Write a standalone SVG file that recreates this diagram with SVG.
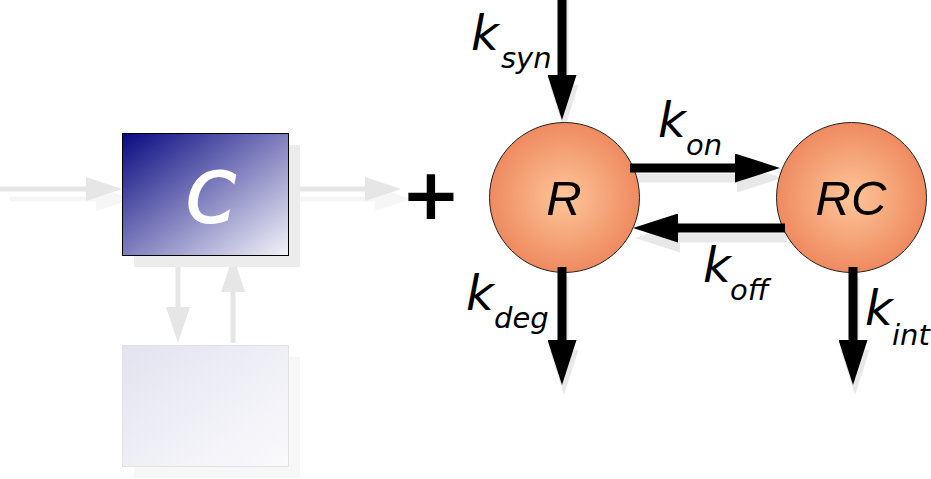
<svg xmlns="http://www.w3.org/2000/svg" width="931" height="479" viewBox="0 0 931 479">
<style>
.k{font-family:"DejaVu Sans",Verdana,sans-serif;font-style:italic;font-size:48px;fill:#000}
.sub{font-family:"DejaVu Sans",Verdana,sans-serif;font-style:italic;font-size:29px;fill:#000}
.lbl{font-family:"Liberation Sans",Arial,sans-serif;font-style:italic;font-size:49px;fill:#000}
.blk{stroke:#000;stroke-width:9;fill:none;marker-end:url(#hb)}
.shd{stroke:#e8e8e8;stroke-width:9;fill:none;marker-end:url(#hs)}
.gry{stroke:#e6e6e6;stroke-width:5;fill:none;marker-end:url(#hg)}
.gsh{stroke:#f6f6f6;stroke-width:5;fill:none;marker-end:url(#hgs)}
</style>
<defs>
<marker id="hb" markerUnits="userSpaceOnUse" viewBox="0 0 45 29" refX="0" refY="14.5" markerWidth="45" markerHeight="29" orient="auto"><path d="M0,0 L45,14.5 L0,29 z" fill="#000"/></marker>
<marker id="hs" markerUnits="userSpaceOnUse" viewBox="0 0 45 29" refX="0" refY="14.5" markerWidth="45" markerHeight="29" orient="auto"><path d="M0,0 L45,14.5 L0,29 z" fill="#e8e8e8"/></marker>
<marker id="hg" markerUnits="userSpaceOnUse" viewBox="0 0 36 24" refX="0" refY="12" markerWidth="36" markerHeight="24" orient="auto"><path d="M0,0 L36,12 L0,24 z" fill="#e6e6e6"/></marker>
<marker id="hgs" markerUnits="userSpaceOnUse" viewBox="0 0 36 24" refX="0" refY="12" markerWidth="36" markerHeight="24" orient="auto"><path d="M0,0 L36,12 L0,24 z" fill="#f6f6f6"/></marker>
<linearGradient id="gc" x1="0" y1="0" x2="1" y2="1"><stop offset="0" stop-color="#0a0a82"/><stop offset="1" stop-color="#f4f4fa"/></linearGradient>
<linearGradient id="gl" x1="0" y1="0" x2="1" y2="1"><stop offset="0" stop-color="#e3e3f0"/><stop offset="1" stop-color="#fafafc"/></linearGradient>
<radialGradient id="gr" cx="0.5" cy="0.5" r="0.5"><stop offset="0" stop-color="#fdc699"/><stop offset="1" stop-color="#ef8a60"/></radialGradient>
</defs>

<g id="connectors">
  <path class="gsh" d="M10,199 L96,199"/>
  <path class="gsh" d="M298,199 L375,199"/>
  <path class="gry" d="M0,189 L86,189"/>
  <path class="gry" d="M288,189 L365,189"/>
  <path class="gry" d="M178,255 L178,307"/>
  <path class="gry" d="M233,343 L233,292"/>
  <path class="shd" d="M564,0 L564,85"/>
  <path class="shd" d="M632,178 L737,178"/>
  <path class="shd" d="M787,238 L680,238"/>
  <path class="shd" d="M564,277 L564,350"/>
  <path class="shd" d="M855,277 L855,350"/>
</g>

<g id="node-C-shadow"><rect x="134" y="145" width="166" height="122" fill="#ececec"/></g>
<g id="node-lower-shadow"><rect x="134" y="357" width="166" height="121" fill="#f7f7f7"/></g>

<g id="node-C">
  <rect x="122.5" y="133.5" width="166" height="122" fill="url(#gc)" stroke="#000" stroke-width="1"/>
  <text x="211" y="222" text-anchor="middle" font-family="'DejaVu Sans',Verdana,sans-serif" font-style="italic" font-size="70" fill="#fff" stroke="#fff" stroke-width="2">C</text>
</g>
<g id="node-lower">
  <rect x="122.5" y="345.5" width="166" height="121" fill="url(#gl)" stroke="#e2e2e2" stroke-width="1"/>
</g>

<g id="plus">
  <text x="431" y="219" text-anchor="middle" font-family="'DejaVu Sans',sans-serif" font-weight="bold" font-size="72" fill="#000">+</text>
</g>

<g id="node-R">
  <circle cx="564.5" cy="197.5" r="75" fill="url(#gr)" stroke="#222" stroke-width="1"/>
  <text x="564" y="215" text-anchor="middle" class="lbl">R</text>
</g>
<g id="node-RC">
  <circle cx="851.5" cy="197.5" r="75" fill="url(#gr)" stroke="#222" stroke-width="1"/>
  <text x="851" y="215" text-anchor="middle" class="lbl">RC</text>
</g>

<g id="arrows">
  <path class="blk" d="M562,0 L562,75"/>
  <path class="blk" d="M630,168 L735,168"/>
  <path class="blk" d="M785,228 L678,228"/>
  <path class="blk" d="M562,267 L562,340"/>
  <path class="blk" d="M853,267 L853,340"/>
</g>

<g id="labels">
  <text class="k" x="471" y="50">k</text><text class="sub" x="501" y="68">syn</text>
  <text class="k" x="658" y="137">k</text><text class="sub" x="686" y="155">on</text>
  <text class="k" x="703" y="282">k</text><text class="sub" x="730" y="300">off</text>
  <text class="k" x="466" y="310">k</text><text class="sub" x="494" y="328">deg</text>
  <text class="k" x="865" y="325">k</text><text class="sub" x="892" y="345">int</text>
</g>
</svg>
